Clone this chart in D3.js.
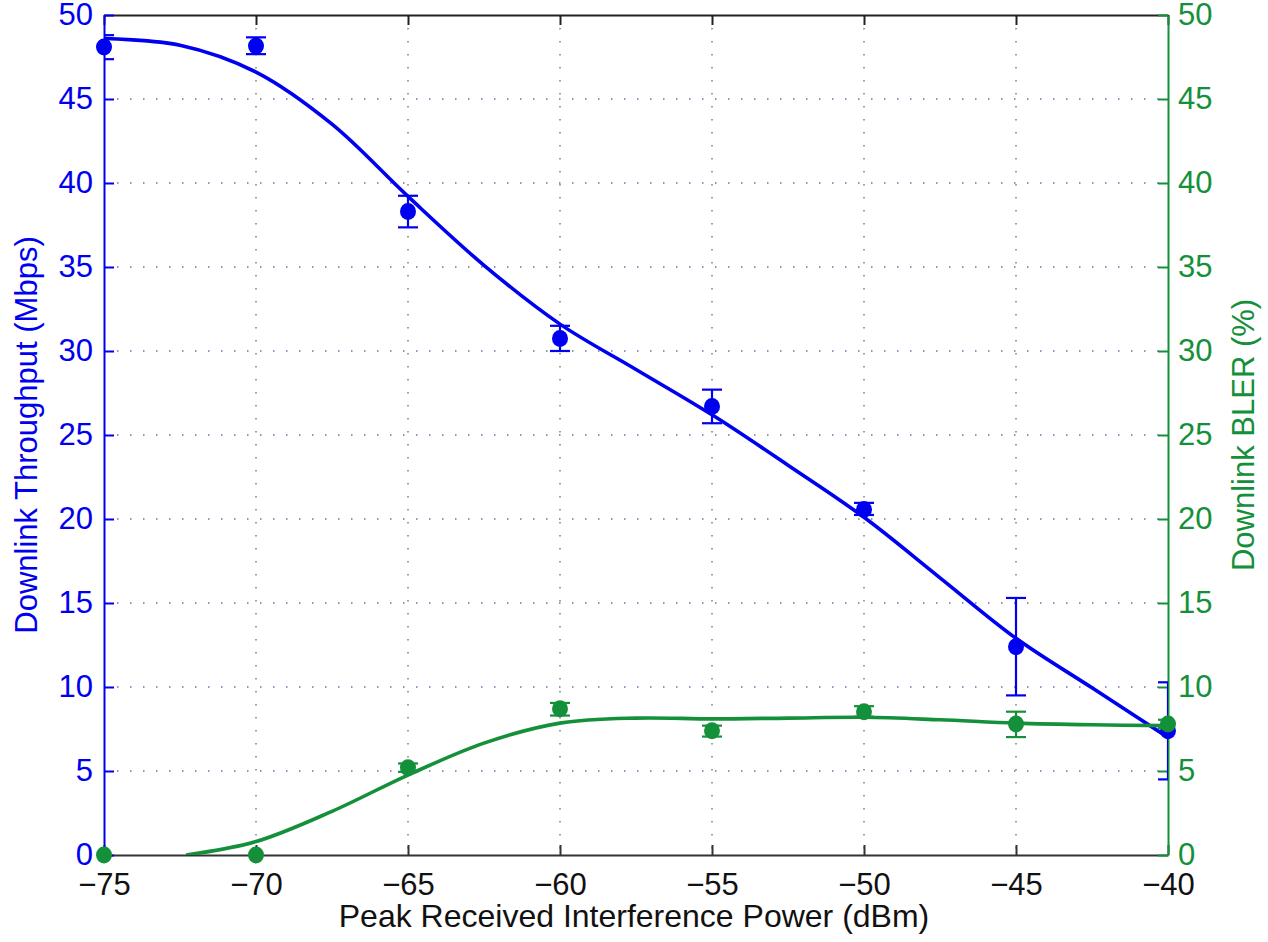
<!DOCTYPE html>
<html>
<head>
<meta charset="utf-8">
<script src="https://cdn.jsdelivr.net/npm/d3@7"></script>
<style>
  body { margin: 0; background: #fff; }
  text { font-family: "Liberation Sans", Arial, sans-serif; }
</style>
</head>
<body>
<div id="chart"></div>
<script>

// x positions (dBm)
var power = [-75, -70, -65, -60, -55, -50, -45, -40];
var xTicks = [-75, -70, -65, -60, -55, -50, -45, -40];
var yTicks = [0, 5, 10, 15, 20, 25, 30, 35, 40, 45, 50];

// throughput (Mbps), mean and error bar ends
var tputMean = [48.1, 48.15, 38.3, 30.75, 26.7, 20.57, 12.4, 7.4];
var tputLow  = [47.37, 47.67, 37.36, 30.0, 25.7, 20.24, 9.5, 4.5];
var tputHigh = [48.8, 48.67, 39.24, 31.5, 27.7, 20.96, 15.3, 10.28];

// BLER (%), mean and error bar ends
var blerMean = [0, 0, 5.2, 8.7, 7.4, 8.53, 7.8, 7.8];
var blerLow  = [0, 0, 4.95, 8.3, 7.05, 8.23, 7.02, 7.55];
var blerHigh = [0, 0, 5.45, 9.05, 7.7, 8.86, 8.53, 8.05];

// fitted curves
var tputFitX = [-75, -72.5, -70, -67.5, -65, -62.5, -60, -57.5, -55, -52.5, -50, -47.5, -45, -42.5, -40];
var tputFitY = [48.6, 48.2, 46.6, 43.5, 39.2, 35.1, 31.6, 28.9, 26.2, 23.2, 20.1, 16.5, 12.9, 9.95, 7.0];
var blerFitX = [-72.3, -70, -67.5, -65, -62.5, -60, -57.5, -55, -52.5, -50, -47.5, -45, -42.5, -40];
var blerFitY = [0, 0.8, 2.6, 4.76, 6.66, 7.85, 8.15, 8.1, 8.15, 8.2, 8.05, 7.85, 7.75, 7.7];

var blue = "#0000f0", green = "#15903a";
var W = 1268, H = 942;
var pLeft = 104, pRight = 1168, pTop = 15, pBottom = 855;
var fs = 31;

var svg = d3.select("#chart").append("svg").attr("width", W).attr("height", H);

var x = d3.scaleLinear().domain([-75, -40]).range([pLeft, pRight]);
var yL = d3.scaleLinear().domain([0, 50]).range([pBottom, pTop]);
var yR = d3.scaleLinear().domain([0, 50]).range([pBottom, pTop]);

svg.append("defs").append("clipPath").attr("id", "plotClip")
	.append("rect").attr("x", pLeft).attr("y", pTop).attr("width", pRight - pLeft).attr("height", pBottom - pTop);

// grid
svg.append("g").selectAll("line").data(yTicks.slice(1, -1)).enter().append("line")
	.attr("x1", pLeft).attr("x2", pRight)
	.attr("y1", function(d) { return yL(d); }).attr("y2", function(d) { return yL(d); })
	.attr("stroke", "#6f6fb0").attr("stroke-width", 1.5).attr("stroke-dasharray", "1.5,11.5");
svg.append("g").selectAll("line").data(xTicks.slice(1, -1)).enter().append("line")
	.attr("y1", pTop).attr("y2", pBottom)
	.attr("x1", function(d) { return x(d); }).attr("x2", function(d) { return x(d); })
	.attr("stroke", "#808080").attr("stroke-width", 1.5).attr("stroke-dasharray", "1.5,11.5");

// x axes (bottom and top)
var xAxisB = d3.axisBottom(x).tickValues(xTicks).tickSizeInner(-10).tickSizeOuter(0)
	.tickFormat(function(d) { return "\u2212" + Math.abs(d); });
var gxb = svg.append("g").attr("transform", "translate(0," + pBottom + ")").call(xAxisB);
gxb.select(".domain").attr("stroke", "#333").attr("stroke-width", 2);
gxb.selectAll(".tick line").attr("stroke", "#333").attr("stroke-width", 2);
gxb.selectAll(".tick text").attr("fill", "#111").attr("font-size", fs).attr("y", 18).attr("dy", "0.71em");

var xAxisT = d3.axisTop(x).tickValues(xTicks).tickSizeInner(-10).tickSizeOuter(0).tickFormat("");
var gxt = svg.append("g").attr("transform", "translate(0," + pTop + ")").call(xAxisT);
gxt.select(".domain").attr("stroke", "#222").attr("stroke-width", 2);
gxt.selectAll(".tick line").attr("stroke", "#222").attr("stroke-width", 2);

// left axis
var yAxisL = d3.axisLeft(yL).tickValues(yTicks).tickSizeInner(-10).tickSizeOuter(0);
var gyl = svg.append("g").attr("transform", "translate(" + pLeft + ",0)").call(yAxisL);
gyl.select(".domain").attr("stroke", blue).attr("stroke-width", 2);
gyl.selectAll(".tick line").attr("stroke", blue).attr("stroke-width", 2);
gyl.selectAll(".tick text").attr("fill", blue).attr("font-size", fs).attr("x", -11);

// right axis
var yAxisR = d3.axisRight(yR).tickValues(yTicks).tickSizeInner(-10).tickSizeOuter(0);
var gyr = svg.append("g").attr("transform", "translate(" + pRight + ",0)").call(yAxisR);
gyr.select(".domain").attr("stroke", green).attr("stroke-width", 2);
gyr.selectAll(".tick line").attr("stroke", green).attr("stroke-width", 2);
gyr.selectAll(".tick text").attr("fill", green).attr("font-size", fs).attr("x", 10);

// axis titles
svg.append("text").attr("x", 634).attr("y", 927).attr("text-anchor", "middle")
	.attr("font-size", 32).attr("fill", "#111").text("Peak Received Interference Power (dBm)");
svg.append("text").attr("transform", "translate(37," + ((pTop + pBottom) / 2) + ") rotate(-90)")
	.attr("text-anchor", "middle").attr("font-size", fs).attr("fill", blue).text("Downlink Throughput (Mbps)");
svg.append("text").attr("transform", "translate(1254," + ((pTop + pBottom) / 2) + ") rotate(-90)")
	.attr("text-anchor", "middle").attr("font-size", fs).attr("fill", green).text("Downlink BLER (%)");

// series drawing
function drawSeries(y, fx, fy, mean, low, high, color) {
	var line = d3.line().x(function(d) { return x(d[0]); }).y(function(d) { return y(d[1]); })
		.curve(d3.curveCatmullRom.alpha(0.5));
	var pts = fx.map(function(v, i) { return [v, fy[i]]; });
	svg.append("path").datum(pts).attr("d", line).attr("clip-path", "url(#plotClip)")
		.attr("fill", "none").attr("stroke", color).attr("stroke-width", 3.6);

	var eb = svg.append("g").attr("clip-path", "url(#plotClip)")
		.attr("stroke", color).attr("stroke-width", 2.2).attr("fill", "none");
	power.forEach(function(p, i) {
		if (high[i] - low[i] <= 0) return;
		var cx = x(p);
		eb.append("line").attr("x1", cx).attr("x2", cx).attr("y1", y(low[i])).attr("y2", y(high[i]));
		eb.append("line").attr("x1", cx - 10).attr("x2", cx + 10).attr("y1", y(low[i])).attr("y2", y(low[i]));
		eb.append("line").attr("x1", cx - 10).attr("x2", cx + 10).attr("y1", y(high[i])).attr("y2", y(high[i]));
	});

	svg.append("g").selectAll("ellipse").data(power).enter().append("ellipse")
		.attr("cx", function(d) { return x(d); })
		.attr("cy", function(d, i) { return y(mean[i]); })
		.attr("rx", 8).attr("ry", 8.5)
		.attr("fill", color);
}

drawSeries(yL, tputFitX, tputFitY, tputMean, tputLow, tputHigh, blue);
drawSeries(yR, blerFitX, blerFitY, blerMean, blerLow, blerHigh, green);

</script>
</body>
</html>
